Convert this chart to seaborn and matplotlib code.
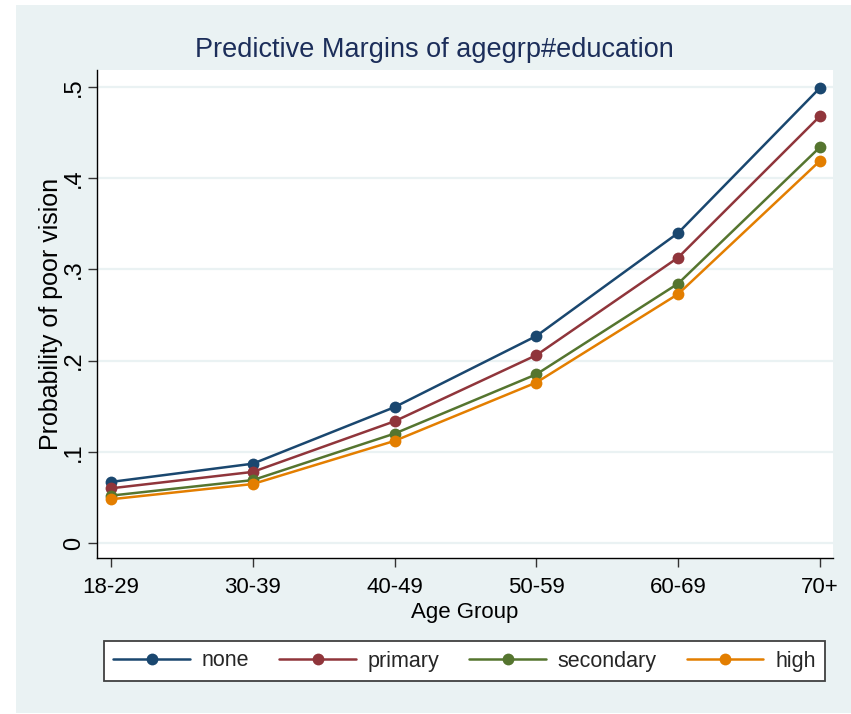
import numpy as np
import pandas as pd
import matplotlib
matplotlib.use("Agg")
import matplotlib.pyplot as plt
import seaborn as sns
from matplotlib.patches import Rectangle

# ---- data ----
age_groups = ["18-29", "30-39", "40-49", "50-59", "60-69", "70+"]
education = ["none", "primary", "secondary", "high"]
none_vals = [0.067, 0.087, 0.149, 0.227, 0.340, 0.499]
primary_vals = [0.060, 0.078, 0.1335, 0.206, 0.313, 0.468]
secondary_vals = [0.052, 0.069, 0.120, 0.185, 0.2845, 0.434]
high_vals = [0.048, 0.0647, 0.112, 0.176, 0.273, 0.419]
y_ticks = [0, 0.1, 0.2, 0.3, 0.4, 0.5]
y_tick_labels = ["0", ".1", ".2", ".3", ".4", ".5"]
colors = ["#1A476F", "#90353B", "#55752F", "#E37E00"]

series = {"none": none_vals, "primary": primary_vals,
          "secondary": secondary_vals, "high": high_vals}
rows = []
for ed in education:
    for i, (ag, v) in enumerate(zip(age_groups, series[ed])):
        rows.append({"pos": i, "agegrp": ag, "education": ed, "prob": v})
df = pd.DataFrame(rows)

sns.set_theme(style="white")
FONT = ["Liberation Sans", "DejaVu Sans"]
plt.rcParams["font.family"] = FONT

BG = "#EAF2F3"
fig = plt.figure(figsize=(8.51, 7.14), dpi=100, facecolor="white")
fig.patches.append(Rectangle((16 / 851, 1 / 714), 1 - 16 / 851, 708 / 714,
                             transform=fig.transFigure, facecolor=BG,
                             edgecolor="none", zorder=-10))

ax = fig.add_axes([97 / 851, 1 - 558 / 714, 736 / 851, 488 / 714])
ax.set_facecolor("white")

sns.lineplot(data=df, x="pos", y="prob", hue="education", hue_order=education,
             palette=colors, marker="o", markersize=8.5, markeredgewidth=0,
             linewidth=1.8, legend=False, ax=ax, zorder=3)

ax.set_xlim(-0.099, 5.092)
ax.set_ylim(-0.0164, 0.5186)
ax.set_xticks(range(len(age_groups)))
ax.set_xticklabels(age_groups, fontsize=16, color="black")
ax.set_yticks(y_ticks)
ax.set_yticklabels(y_tick_labels, fontsize=17, rotation=90,
                   va="center", color="black")
ax.tick_params(axis="both", direction="out", length=6.5, width=1,
               color="#333333", bottom=True, left=True)
ax.tick_params(axis="x", pad=7)
ax.tick_params(axis="y", pad=2)

ax.grid(axis="y", color=BG, linewidth=1.6, zorder=0)
ax.grid(axis="x", visible=False)
ax.set_axisbelow(True)

for s in ["top", "right"]:
    ax.spines[s].set_visible(False)
for s in ["left", "bottom"]:
    ax.spines[s].set_color("black")
    ax.spines[s].set_linewidth(1.0)

ax.set_xlabel("Age Group", fontsize=16, color="black", labelpad=3)
ax.set_ylabel("Probability of poor vision", fontsize=18, color="black",
              labelpad=0)

fig.text(434 / 851, 1 - 50 / 714, "Predictive Margins of agegrp#education",
         ha="center", va="center", fontsize=19.5, color="#1C2E5A")

handles = ax.get_lines()[:4]
leg = fig.legend(handles, education, loc="center", ncol=4,
                 bbox_to_anchor=(464.5 / 851, 1 - 661 / 714),
                 prop={"size": 15.5},
                 frameon=True, fancybox=False, shadow=False,
                 handlelength=3.55, handletextpad=0.55, columnspacing=1.4,
                 borderpad=0.45, numpoints=1)
leg.get_frame().set_edgecolor("#404040")
leg.get_frame().set_linewidth(1.3)
leg.get_frame().set_facecolor("white")
leg.get_frame().set_alpha(1)

fig.savefig("out.png", dpi=100, facecolor="white")
